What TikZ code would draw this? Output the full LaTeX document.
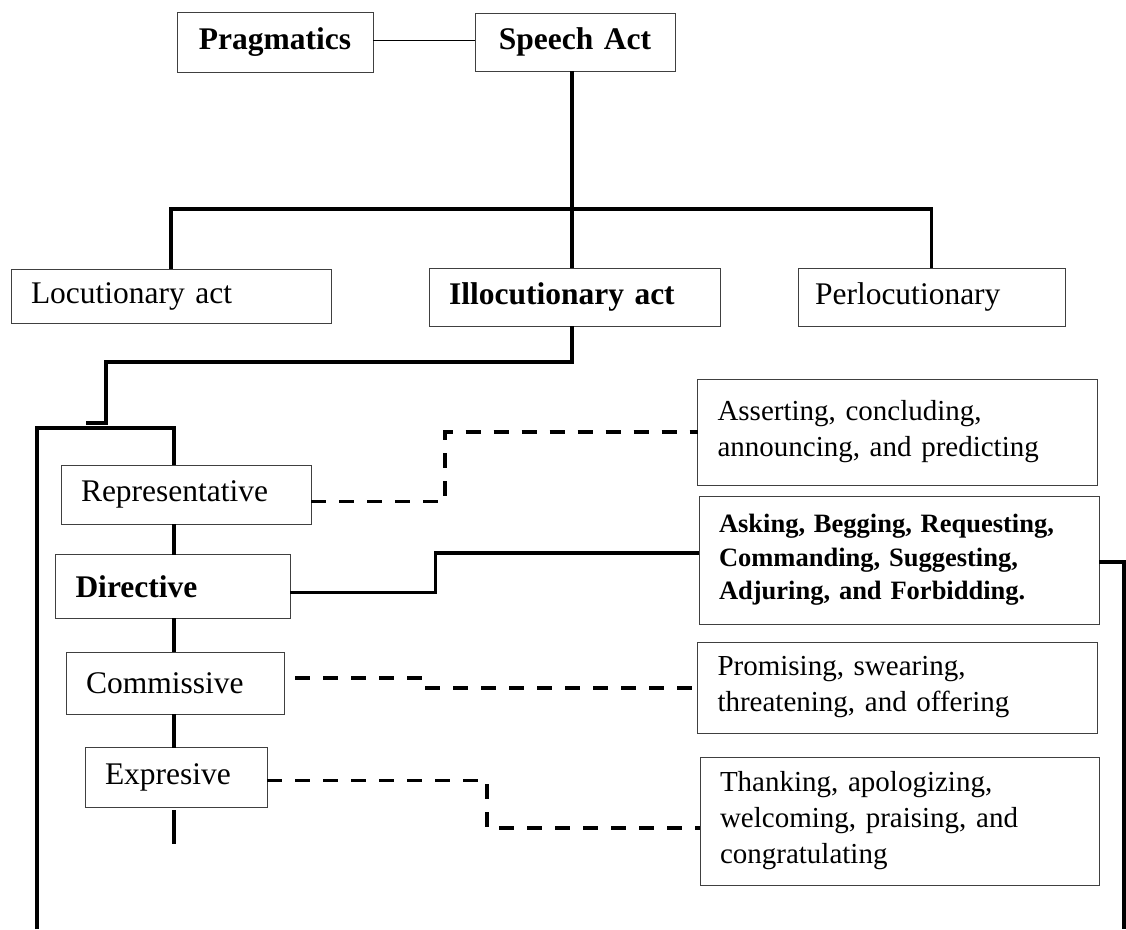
\documentclass[tikz,border=0pt]{standalone}
\usepackage{fontspec}
\setmainfont{Liberation Serif}
\begin{document}
\begin{tikzpicture}[x=1pt,y=-1pt,
  box/.style={draw=black!75, line width=1pt, anchor=north west, inner xsep=20pt, inner ysep=0pt, outer sep=0pt, align=left, font=\fontsize{31.5}{38}\selectfont},
  bbox/.style={box, font=\fontsize{31.5}{38}\selectfont\bfseries},
  cbox/.style={bbox, align=center},
  listbox/.style={box, font=\fontsize{29}{36}\selectfont},
  blistbox/.style={box, font=\fontsize{26.5}{33.5}\selectfont\bfseries},
  link/.style={line width=3.2pt, line join=miter},
  dashlink/.style={line width=3.4pt, dash pattern=on 15pt off 13pt},
  thinlink/.style={line width=1pt}]

\useasboundingbox (0,0) rectangle (1126,929);

% top
\node[cbox, text width=156pt, minimum height=60pt] (prag) at (177,12) {Pragmatics};
\node[cbox, text width=160pt, minimum height=58pt] (speech) at (475,13) {Speech Act};

% level 2
\node[box, text width=280pt, minimum height=54pt] (loc) at (11,269) {Locutionary act};
\node[bbox, text width=251pt, minimum height=58pt] (illo) at (429,268) {Illocutionary act};
\node[box, inner xsep=17pt, text width=233pt, minimum height=58pt] (perl) at (798,268) {Perlocutionary};

% illocutionary types
\node[box, text width=210pt, minimum height=59pt] (rep) at (61,465) {Representative};
\node[bbox, text width=194.5pt, minimum height=63.5pt] (dir) at (55.5,554.5) {Directive};
\node[box, text width=178pt, minimum height=62pt] (com) at (66,652) {Commissive};
\node[box, text width=142pt, minimum height=59.5pt] (exp) at (85,747.5) {Expresive};

% examples
\node[listbox, text width=359.5pt, minimum height=106pt] (assert) at (697.5,379) {Asserting, concluding,\\announcing, and predicting};
\node[blistbox, text width=360pt, minimum height=128pt] (ask) at (699,496) {Asking, Begging, Requesting,\\Commanding, Suggesting,\\Adjuring, and Forbidding.};
\node[listbox, text width=359.5pt, minimum height=91pt] (prom) at (697.5,642) {Promising, swearing,\\threatening, and offering};
\node[listbox, text width=359pt, minimum height=128pt] (thank) at (700,757) {Thanking, apologizing,\\welcoming, praising, and\\congratulating};

% helper coordinates
\coordinate (busy) at (0,209);
\coordinate (elbow) at (106,362);
\coordinate (stub) at (86,423);
\coordinate (spine) at (174,428);
\coordinate (brk) at (37,929);
\coordinate (spineend) at (174,844);
\coordinate (rstep) at (445,0);
\coordinate (dstep) at (435.5,553);
\coordinate (cstep) at (427,688);
\coordinate (estep) at (487,828);
\coordinate (rbot) at (1124,929);
\coordinate (vx) at (572,0);

% connectors
\draw[thinlink] ([yshift=1.5pt]prag.east) -- ([yshift=1.5pt]speech.west);
\draw[link] (speech.south -| vx) -- (illo.north -| vx);
\draw[link] (loc.north) |- (vx |- busy) -| (perl.north);
\draw[link] (illo.south -| vx) |- (elbow) |- (stub);
\draw[link] (brk) |- (spine) -- (spine |- rep.north);
\draw[link] (spine |- rep.south) -- (spine |- dir.north);
\draw[link] (spine |- dir.south) -- (spine |- com.north);
\draw[link] (spine |- com.south) -- (spine |- exp.north);
\draw[link] ([yshift=-3pt]spine |- exp.south) -- (spineend);

\draw[dashlink] ([yshift=-7pt]rep.east) -| (assert.west -| rstep) -- (assert.west);
\draw[link] ([yshift=-6pt]dir.east) -| (dstep) -- (ask.west |- dstep);
\draw[dashlink] ([xshift=11pt,yshift=5pt]com.east) -| (cstep) -- (prom.west |- cstep);
\draw[dashlink] ([yshift=-3pt]exp.east) -| (estep) -- (thank.west |- estep);
\draw[link] ([yshift=-2pt]ask.east) -| (rbot);
\end{tikzpicture}
\end{document}
